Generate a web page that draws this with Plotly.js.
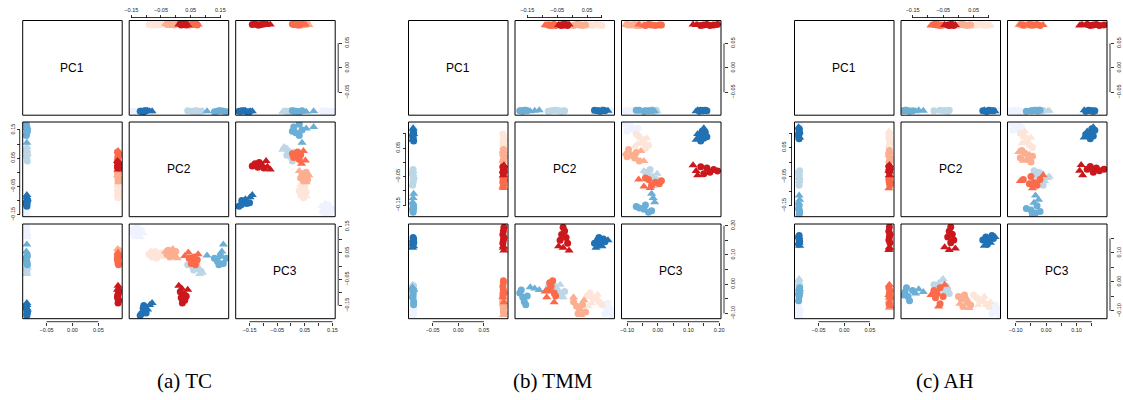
<!DOCTYPE html>
<html><head><meta charset="utf-8">
<script src="https://cdn.plot.ly/plotly-3.0.1.min.js"></script>
<style>html,body{margin:0;padding:0;background:#fff}</style>
</head><body><div id="chart" style="width:1123px;height:400px"></div>
<script>
// ---------------- data ----------------
const varNames = ['PC1', 'PC2', 'PC3'];
const captions = ['(a) TC', '(b) TMM', '(c) AH'];
const groupColors = ['#CB181D', '#FB6A4A', '#FCAE91', '#FEE5D9', '#2171B5', '#6BAED6', '#BDD7E7', '#EFF3FF'];
const drawOrder = [7, 3, 6, 2, 5, 1, 4, 0];

const sampleGroup = [
  0,0,0,0,0,0,0,0,0, 1,1,1,1,1,1,1,1,1, 2,2,2,2,2,2,2,2,2, 3,3,3,3,3,3,3,3,3,
  4,4,4,4,4,4,4,4,4, 5,5,5,5,5,5,5,5,5, 6,6,6,6,6,6,6,6,6, 7,7,7,7,7,7,7,7,7];
const sampleShape = [
  'c','c','c','c','c','c','t','t','t', 'c','c','c','c','c','c','t','t','t',
  'c','c','c','c','c','c','t','t','t', 'c','c','c','c','c','c','t','t','t',
  'c','c','c','c','c','c','t','t','t', 'c','c','c','c','c','c','t','t','t',
  'c','c','c','c','c','c','t','t','t', 'c','c','c','c','c','c','t','t','t'];

// (a) TC
const tcPC1 = [
  0.088,0.089,0.087,0.088,0.089,0.087,0.089,0.088,0.087,
  0.087,0.088,0.089,0.088,0.087,0.089,0.088,0.089,0.088,
  0.089,0.088,0.087,0.088,0.089,0.088,0.087,0.088,0.089,
  0.088,0.087,0.089,0.088,0.088,0.087,0.089,0.088,0.087,
  -0.088,-0.087,-0.089,-0.088,-0.087,-0.089,-0.088,-0.088,-0.087,
  -0.089,-0.088,-0.087,-0.088,-0.089,-0.087,-0.088,-0.088,-0.089,
  -0.087,-0.088,-0.089,-0.088,-0.087,-0.088,-0.089,-0.088,-0.087,
  -0.088,-0.089,-0.087,-0.088,-0.088,-0.089,-0.087,-0.088,-0.088];
const tcPC2 = [
  0.022,0.030,0.018,0.028,0.015,0.035,0.020,0.010,0.040,
  0.045,0.058,0.066,0.052,0.072,0.062,0.042,0.030,0.075,
  -0.025,-0.015,-0.005,-0.020,0.000,-0.030,-0.010,0.005,-0.035,
  -0.090,-0.080,-0.070,-0.060,-0.050,-0.065,-0.085,-0.075,-0.045,
  -0.115,-0.105,-0.110,-0.120,-0.100,-0.108,-0.088,-0.080,-0.095,
  0.130,0.140,0.150,0.160,0.170,0.145,0.105,0.160,0.155,
  0.040,0.055,0.075,0.085,0.070,0.060,0.080,0.090,0.065,
  -0.145,-0.135,-0.125,-0.115,-0.140,-0.130,-0.120,-0.110,-0.150];
const tcPC3 = [
  -0.140,-0.130,-0.120,-0.108,-0.098,-0.115,-0.085,-0.075,-0.090,
  0.030,0.018,0.005,0.010,0.024,0.035,0.052,0.038,0.045,
  0.060,0.050,0.040,0.035,0.055,0.045,0.065,0.030,0.055,
  0.045,0.035,0.055,0.040,0.050,0.030,0.055,0.045,0.035,
  -0.180,-0.170,-0.160,-0.188,-0.178,-0.150,-0.148,-0.140,-0.165,
  0.030,0.018,0.040,0.010,0.030,0.005,0.040,0.082,0.055,
  0.005,0.000,-0.010,-0.020,0.010,-0.015,-0.030,-0.025,-0.005,
  0.140,0.130,0.120,0.135,0.115,0.150,0.110,0.125,0.128];

// (b) TMM
const tmmPC1 = [
  0.089,0.088,0.087,0.089,0.088,0.087,0.088,0.089,0.088,
  0.088,0.087,0.089,0.088,0.088,0.087,0.089,0.088,0.087,
  0.087,0.089,0.088,0.087,0.088,0.089,0.088,0.087,0.088,
  0.088,0.088,0.087,0.089,0.088,0.087,0.088,0.089,0.088,
  -0.087,-0.088,-0.089,-0.087,-0.088,-0.088,-0.089,-0.087,-0.088,
  -0.088,-0.089,-0.087,-0.088,-0.088,-0.087,-0.089,-0.088,-0.087,
  -0.089,-0.088,-0.087,-0.088,-0.089,-0.088,-0.087,-0.088,-0.089,
  -0.088,-0.087,-0.088,-0.089,-0.088,-0.087,-0.088,-0.089,-0.088];
const tmmPC2 = [
  -0.030,-0.025,-0.035,-0.020,-0.040,-0.015,-0.030,-0.010,-0.045,
  -0.080,-0.070,-0.060,-0.075,-0.065,-0.055,-0.060,-0.090,-0.085,
  0.005,0.015,0.025,0.035,0.045,0.020,0.040,0.005,0.030,
  0.050,0.060,0.070,0.080,0.090,0.100,0.065,0.085,0.055,
  0.075,0.085,0.095,0.105,0.110,0.090,0.080,0.100,0.120,
  -0.175,-0.165,-0.160,-0.150,-0.170,-0.155,-0.140,-0.125,-0.110,
  -0.080,-0.070,-0.060,-0.045,-0.035,-0.025,-0.050,-0.030,-0.040,
  0.105,0.115,0.125,0.135,0.120,0.110,0.130,0.138,0.118];
const tmmPC3 = [
  0.195,0.182,0.170,0.160,0.150,0.140,0.125,0.115,0.130,
  -0.020,-0.008,-0.030,0.005,0.012,-0.040,-0.062,-0.025,-0.045,
  -0.060,-0.075,-0.085,-0.070,-0.095,-0.100,-0.055,-0.045,-0.105,
  -0.040,-0.030,-0.050,-0.045,-0.060,-0.070,-0.065,-0.035,-0.075,
  0.140,0.150,0.135,0.155,0.145,0.160,0.125,0.130,0.150,
  -0.030,-0.045,-0.060,-0.040,-0.020,-0.070,-0.010,-0.015,-0.020,
  -0.010,-0.020,-0.005,-0.030,-0.040,-0.025,-0.015,-0.045,-0.002,
  -0.070,-0.080,-0.095,-0.105,-0.065,-0.100,-0.085,-0.110,-0.090];

// (c) AH
const ahPC1 = [
  0.088,0.087,0.089,0.088,0.087,0.089,0.088,0.088,0.087,
  0.089,0.088,0.087,0.088,0.089,0.088,0.087,0.088,0.089,
  0.088,0.089,0.088,0.087,0.088,0.089,0.087,0.088,0.088,
  0.087,0.088,0.089,0.088,0.087,0.088,0.089,0.088,0.087,
  -0.088,-0.089,-0.087,-0.088,-0.088,-0.089,-0.087,-0.088,-0.089,
  -0.087,-0.088,-0.089,-0.088,-0.087,-0.088,-0.089,-0.087,-0.088,
  -0.088,-0.087,-0.088,-0.089,-0.088,-0.087,-0.088,-0.089,-0.088,
  -0.089,-0.088,-0.087,-0.088,-0.089,-0.088,-0.087,-0.088,-0.088];
const ahPC2 = [
  -0.025,-0.030,-0.020,-0.035,-0.015,-0.025,-0.045,-0.010,-0.030,
  -0.080,-0.070,-0.060,-0.050,-0.075,-0.060,-0.090,-0.045,-0.065,
  0.000,0.010,0.020,0.030,0.040,0.015,0.025,0.005,0.035,
  0.050,0.060,0.070,0.080,0.090,0.100,0.065,0.085,0.105,
  0.080,0.090,0.100,0.110,0.115,0.095,0.085,0.105,0.120,
  -0.175,-0.165,-0.160,-0.150,-0.170,-0.180,-0.140,-0.130,-0.115,
  -0.080,-0.060,-0.045,-0.035,-0.040,-0.030,-0.065,-0.055,-0.050,
  0.105,0.115,0.125,0.135,0.120,0.110,0.130,0.138,0.118];
const ahPC3 = [
  0.190,0.175,0.165,0.155,0.145,0.135,0.120,0.115,0.110,
  -0.030,-0.040,-0.020,-0.050,-0.055,-0.075,-0.045,-0.010,-0.085,
  -0.050,-0.060,-0.045,-0.070,-0.080,-0.085,-0.055,-0.075,-0.090,
  -0.045,-0.055,-0.065,-0.060,-0.075,-0.085,-0.080,-0.050,-0.070,
  0.145,0.155,0.140,0.160,0.150,0.130,0.125,0.135,0.155,
  -0.035,-0.050,-0.065,-0.030,-0.020,-0.045,-0.040,-0.025,-0.035,
  -0.010,-0.020,-0.030,-0.025,-0.015,-0.040,-0.005,0.005,0.010,
  -0.085,-0.095,-0.105,-0.115,-0.080,-0.110,-0.090,-0.120,-0.100];

// tick positions and labels
const ticksPC1 = [-0.05, 0, 0.05];
const textPC1 = ['\u22120.05', '0.00', '0.05'];
const tcTicks = [-0.15, -0.1, -0.05, 0, 0.05, 0.1, 0.15];
const tcText = ['\u22120.15', '', '\u22120.05', '', '0.05', '', '0.15'];
const tmmTicksPC2 = [-0.15, -0.1, -0.05, 0, 0.05, 0.1];
const tmmTextPC2 = ['\u22120.15', '', '\u22120.05', '', '0.05', ''];
const tmmTicksPC3 = [-0.1, -0.05, 0, 0.05, 0.1, 0.15, 0.2];
const tmmTextPC3 = ['\u22120.10', '', '0.00', '', '0.10', '', '0.20'];
const ahTicksPC2 = [-0.15, -0.1, -0.05, 0, 0.05, 0.1];
const ahTextPC2 = ['\u22120.15', '', '\u22120.05', '', '0.05', ''];
const ahTicksPC3 = [-0.1, -0.05, 0, 0.05, 0.1, 0.15];
const ahTextPC3 = ['\u22120.10', '', '0.00', '', '0.10', ''];

// ---------------- build ----------------
const panels = [
  {pcs: [tcPC1, tcPC2, tcPC3], ranges: [[-0.096, 0.096], [-0.157, 0.178], [-0.2, 0.16]],
   ticks: [[ticksPC1, textPC1], [tcTicks, tcText], [tcTicks, tcText]]},
  {pcs: [tmmPC1, tmmPC2, tmmPC3], ranges: [[-0.097, 0.097], [-0.191, 0.142], [-0.118, 0.206]],
   ticks: [[ticksPC1, textPC1], [tmmTicksPC2, tmmTextPC2], [tmmTicksPC3, tmmTextPC3]]},
  {pcs: [ahPC1, ahPC2, ahPC3], ranges: [[-0.097, 0.097], [-0.188, 0.138], [-0.127, 0.2]],
   ticks: [[ticksPC1, textPC1], [ahTicksPC2, ahTextPC2], [ahTicksPC3, ahTextPC3]]}
];

const W = 1123, H = 400;
const panelLeft = [22.7, 408.5, 794.5];
const rowTop = [20.5, 122, 224];
const cellW = 99.5, cellH = 94.7, colStep = 106.5;
const axisGap = 3;
const captionX = [184.5, 552.5, 944.5], captionY = 381;
const px = v => v / W;
const py = v => 1 - v / H;

const order = [];
drawOrder.forEach(g => sampleGroup.forEach((sg, i) => { if (sg === g) order.push(i); }));

const tickFont = {family: '"Liberation Sans", Arial, sans-serif', size: 5.5, color: '#222'};
const layout = {
  width: W, height: H, margin: {l: 0, r: 0, t: 0, b: 0}, showlegend: false,
  paper_bgcolor: '#fff', plot_bgcolor: 'rgba(0,0,0,0)', shapes: [], annotations: []
};
const traces = [];

panels.forEach((P, p) => {
  for (let r = 0; r < 3; r++) {
    for (let c = 0; c < 3; c++) {
      const k = p * 9 + r * 3 + c + 1;
      const s = k === 1 ? '' : String(k);
      const x0 = panelLeft[p] + c * colStep, y0 = rowTop[r];
      const base = {showgrid: false, zeroline: false, showline: false, showticklabels: false,
                    ticks: '', automargin: false, fixedrange: true};
      const xa = Object.assign({}, base, {domain: [px(x0), px(x0 + cellW)], range: P.ranges[c], anchor: 'y' + s});
      const ya = Object.assign({}, base, {domain: [py(y0 + cellH), py(y0)], range: P.ranges[r], anchor: 'x' + s});

      const tickAxis = (ax, vals, text, side, pos, isX) => {
        Object.assign(ax, {anchor: 'free', position: pos, side: side, ticks: 'outside', ticklen: 3,
          tickwidth: 0.8, tickcolor: '#000', tickmode: 'array', tickvals: vals, ticktext: text,
          showticklabels: true, tickfont: tickFont, tickangle: isX ? 0 : -90});
        if (isX) {
          layout.shapes.push({type: 'line', xref: 'x' + s, yref: 'paper', x0: vals[0], x1: vals[vals.length - 1],
            y0: pos, y1: pos, line: {color: '#000', width: 0.8}});
        } else {
          layout.shapes.push({type: 'line', xref: 'paper', yref: 'y' + s, x0: pos, x1: pos,
            y0: vals[0], y1: vals[vals.length - 1], line: {color: '#000', width: 0.8}});
        }
      };
      if (r === 0 && c === 1) tickAxis(xa, P.ticks[c][0], P.ticks[c][1], 'top', py(y0 - axisGap), true);
      if (r === 2 && (c === 0 || c === 2)) tickAxis(xa, P.ticks[c][0], P.ticks[c][1], 'bottom', py(y0 + cellH + axisGap), true);
      if (c === 2 && (r === 0 || r === 2)) tickAxis(ya, P.ticks[r][0], P.ticks[r][1], 'right', px(x0 + cellW + axisGap), false);
      if (c === 0 && r === 1) tickAxis(ya, P.ticks[r][0], P.ticks[r][1], 'left', px(x0 - axisGap), false);

      layout['xaxis' + s] = xa;
      layout['yaxis' + s] = ya;

      layout.shapes.push({type: 'rect', xref: 'paper', yref: 'paper', x0: px(x0), x1: px(x0 + cellW),
        y0: py(y0 + cellH), y1: py(y0), line: {color: '#000', width: 1}, layer: 'above'});

      if (r === c) {
        layout.annotations.push({xref: 'paper', yref: 'paper', x: px(x0 + cellW / 2), y: py(y0 + cellH / 2),
          text: varNames[r], showarrow: false, xanchor: 'center', yanchor: 'middle',
          font: {family: '"Liberation Sans", Arial, sans-serif', size: 12, color: '#000'}});
      } else {
        traces.push({
          type: 'scatter', mode: 'markers', xaxis: 'x' + s, yaxis: 'y' + s, hoverinfo: 'skip',
          x: order.map(i => P.pcs[c][i]), y: order.map(i => P.pcs[r][i]),
          marker: {
            color: order.map(i => groupColors[sampleGroup[i]]),
            symbol: order.map(i => sampleShape[i] === 't' ? 'triangle-up' : 'circle'),
            size: order.map(i => sampleShape[i] === 't' ? 8 : 7),
            opacity: 1,
            line: {width: 0}
          }
        });
      }
    }
  }
  layout.annotations.push({xref: 'paper', yref: 'paper', x: px(captionX[p]), y: py(captionY),
    text: captions[p], showarrow: false, xanchor: 'center', yanchor: 'middle',
    font: {family: '"Liberation Serif", "DejaVu Serif", serif', size: 21, color: '#000'}});
});

Plotly.newPlot('chart', traces, layout, {staticPlot: true, displayModeBar: false});
</script></body></html>
